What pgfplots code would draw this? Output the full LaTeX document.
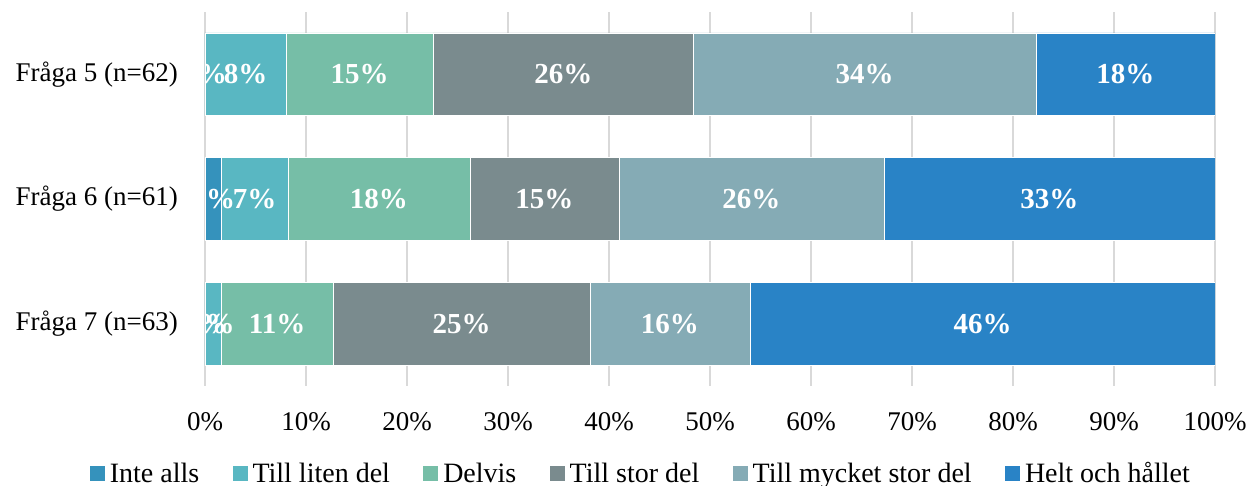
\documentclass[border=0pt]{standalone}
\usepackage{fontspec}
\setmainfont{Liberation Serif}
\usepackage{pgfplots}
\pgfplotsset{compat=1.18}
\definecolor{cInte}{RGB}{53,146,188}
\definecolor{cLiten}{RGB}{89,183,194}
\definecolor{cDelvis}{RGB}{118,190,167}
\definecolor{cStor}{RGB}{122,139,142}
\definecolor{cMycket}{RGB}{133,171,181}
\definecolor{cHelt}{RGB}{41,131,198}
\definecolor{cGrid}{RGB}{217,217,217}
\begin{document}
\begin{tikzpicture}
\useasboundingbox (0pt,0pt) rectangle (1250pt,486pt);
\begin{axis}[
  at={(205pt,100pt)}, anchor=south west,
  scale only axis, width=1010pt, height=374pt,
  xbar stacked, bar width=0.664,
  xmin=0, xmax=100, ymin=-0.5, ymax=2.5,
  ytick={0,1,2},
  yticklabels={Fråga 7 (n=63), Fråga 6 (n=61), Fråga 5 (n=62)},
  xtick={0,10,...,100},
  xticklabel={\pgfmathprintnumber{\tick}\%},
  /pgf/number format/assume math mode=true,
  axis line style={draw=none},
  major tick length=0pt,
  xmajorgrids, grid style={cGrid, line width=1.6pt},
  tick label style={font=\fontsize{27}{32}\selectfont},
  yticklabel style={inner sep=0pt, xshift=-27pt},
  xticklabel style={inner sep=0pt, yshift=-26pt},
  legend columns=6,
  legend style={draw=none, fill=none, at={(0.419,-0.233)}, anchor=center,
    font=\fontsize{28}{33}\selectfont,
    column sep=0pt,
    nodes={inner ysep=2pt, inner xsep=5pt}},
  every axis plot/.append style={draw=white, line width=0.6pt},
  every axis plot post/.append style={
    legend image code/.code={\path (-28pt,0pt); \path[##1, draw=none] (0pt,-7.5pt) rectangle (15pt,7.5pt);}},
]
\addplot[fill=cInte] coordinates {(0,2) (1.64,1) (0,0)};
\addlegendentry{Inte alls}
\addplot[fill=cLiten] coordinates {(8.06,2) (6.56,1) (1.59,0)};
\addlegendentry{Till liten del}
\addplot[fill=cDelvis] coordinates {(14.52,2) (18.03,1) (11.11,0)};
\addlegendentry{Delvis}
\addplot[fill=cStor] coordinates {(25.81,2) (14.75,1) (25.40,0)};
\addlegendentry{Till stor del}
\addplot[fill=cMycket] coordinates {(33.87,2) (26.23,1) (15.87,0)};
\addlegendentry{Till mycket stor del}
\addplot[fill=cHelt] coordinates {(17.74,2) (32.79,1) (46.03,0)};
\addlegendentry{Helt och hållet}
\end{axis}
\begin{axis}[
  at={(205pt,100pt)}, anchor=south west,
  scale only axis, width=1010pt, height=374pt,
  xmin=0, xmax=100, ymin=-0.5, ymax=2.5,
  hide axis, clip marker paths=true,
  point meta=explicit symbolic,
  nodes near coords,
  every node near coord/.append style={anchor=center, text=white, inner sep=0pt,
    font=\bfseries\fontsize{29}{34}\selectfont},
]
\addplot[only marks, mark=text, text mark={}] coordinates {
  (0,2) [0\%] (4.03,2) [8\%] (15.32,2) [15\%] (35.48,2) [26\%] (65.32,2) [34\%] (91.13,2) [18\%]
  (0.82,1) [2\%] (4.92,1) [7\%] (17.21,1) [18\%] (33.61,1) [15\%] (54.10,1) [26\%] (83.61,1) [33\%]
  (0,0) [0\%] (0.79,0) [2\%] (7.14,0) [11\%] (25.40,0) [25\%] (46.03,0) [16\%] (76.98,0) [46\%]
};
\end{axis}
\end{tikzpicture}
\end{document}
